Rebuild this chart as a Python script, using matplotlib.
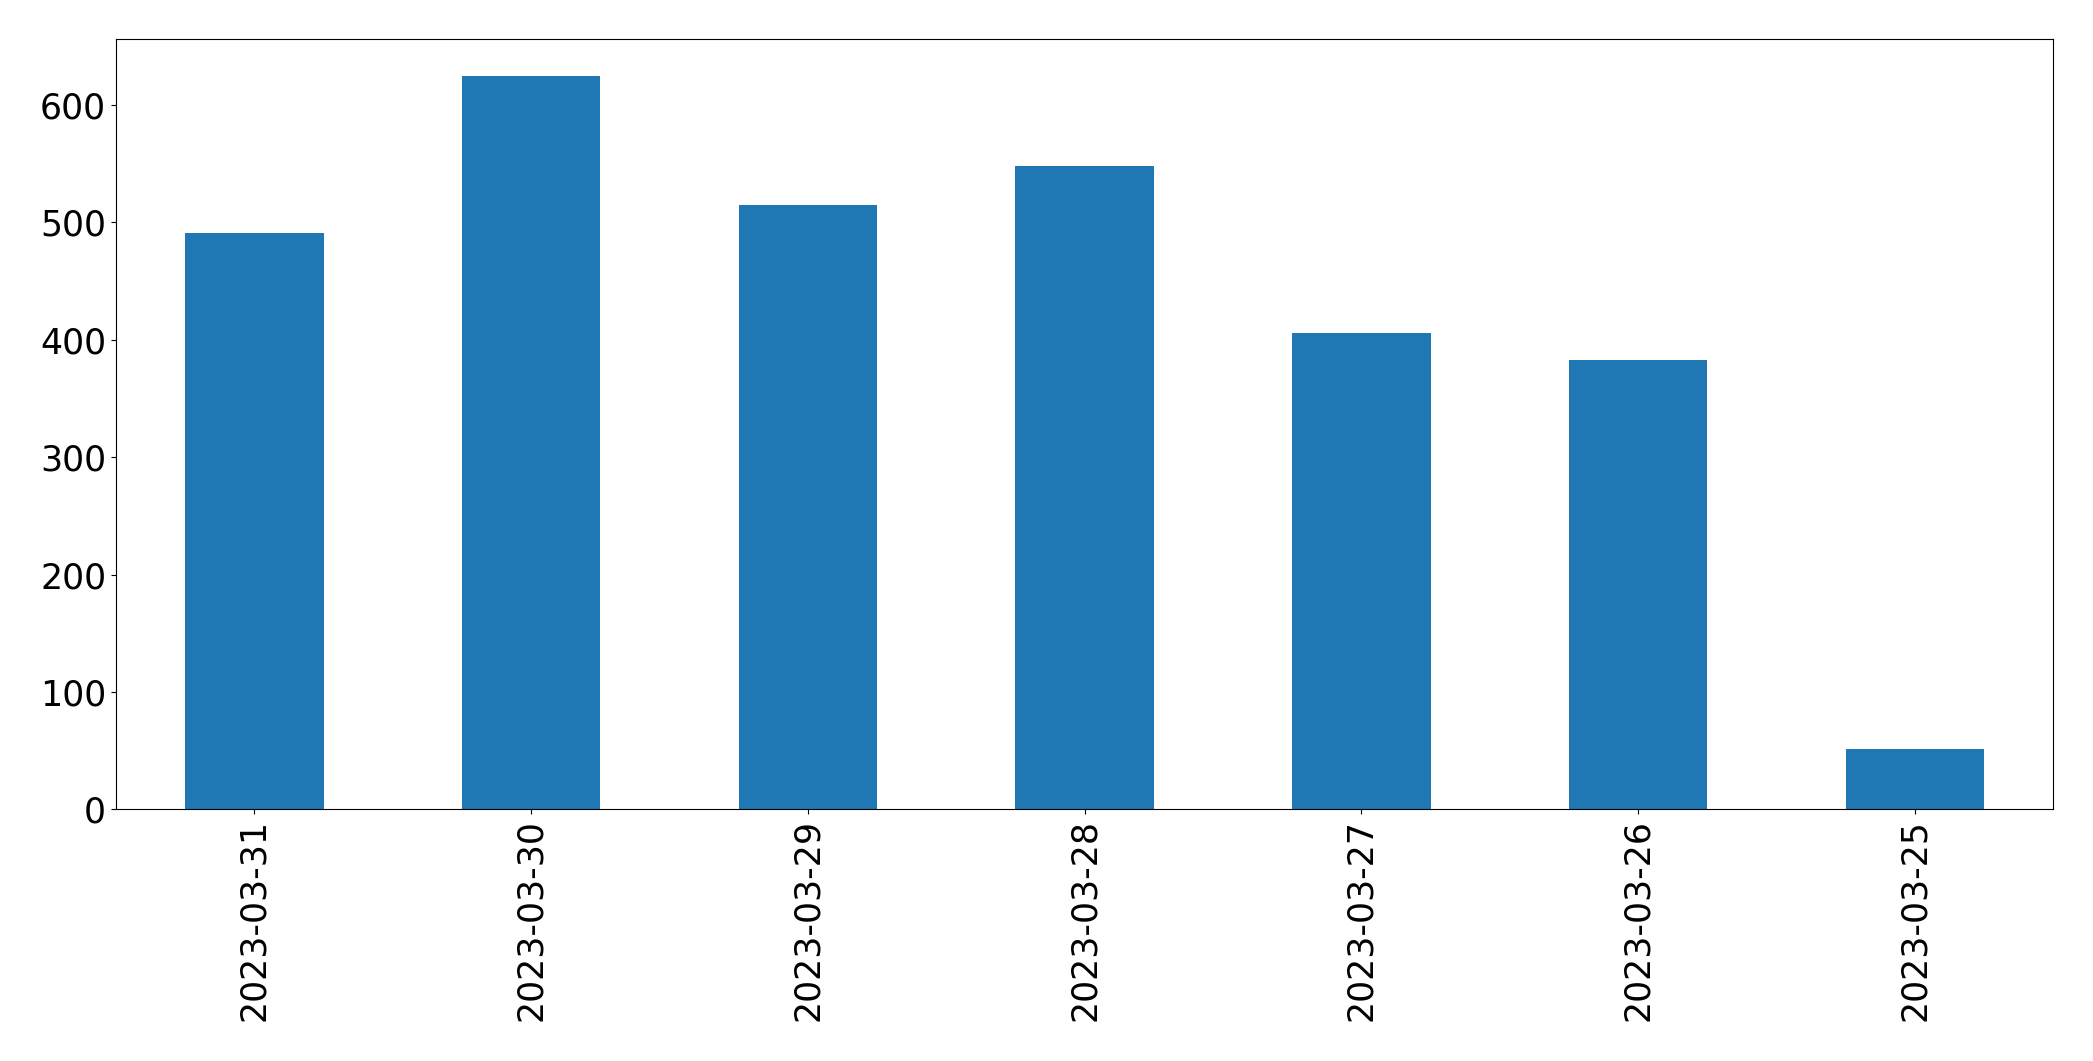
import matplotlib
matplotlib.use("Agg")
import matplotlib.pyplot as plt
import pandas as pd

# daily counts, newest first
dates = ['2023-03-31', '2023-03-30', '2023-03-29', '2023-03-28',
         '2023-03-27', '2023-03-26', '2023-03-25']
counts = [491, 625, 515, 548, 406, 383, 51]

s = pd.Series(counts, index=dates)

fig = plt.figure(figsize=(20.93, 10.61), dpi=100)
ax = fig.add_axes([0.0554, 0.2372, 0.9256, 0.726])
s.plot(kind='bar', ax=ax, color='#1f77b4')
ax.tick_params(axis='both', labelsize=25)

fig.savefig('out.png', dpi=100)
